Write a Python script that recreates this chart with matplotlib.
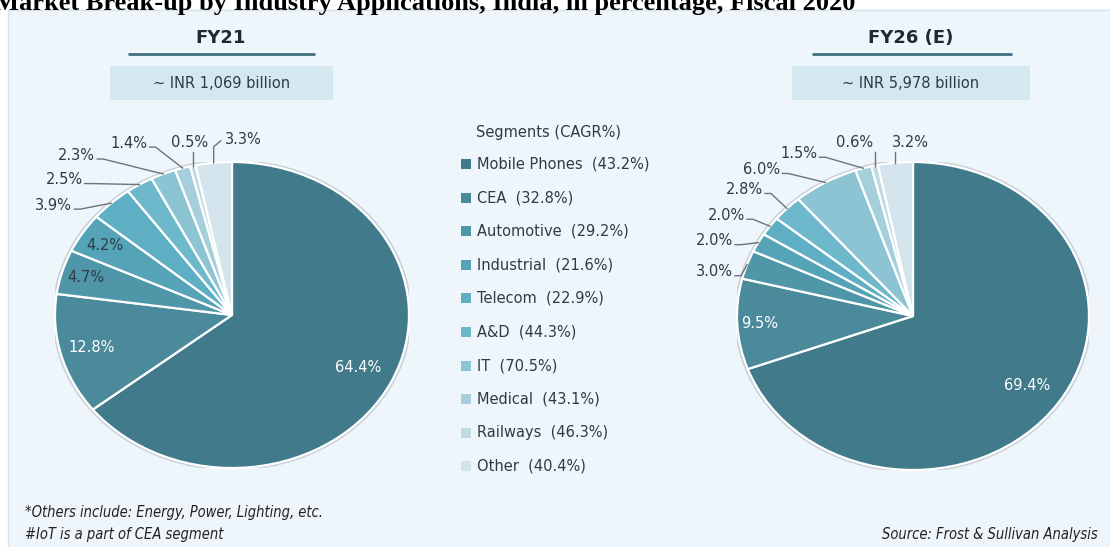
import numpy as np
import matplotlib.pyplot as plt
from matplotlib.patches import Rectangle, Ellipse

# ---- data ----
segments = ["Mobile Phones", "CEA", "Automotive", "Industrial", "Telecom",
            "A&D", "IT", "Medical", "Railways", "Other"]
cagr = [43.2, 32.8, 29.2, 21.6, 22.9, 44.3, 70.5, 43.1, 46.3, 40.4]
share_fy21 = [64.4, 12.8, 4.7, 4.2, 3.9, 2.5, 2.3, 1.4, 0.5, 3.3]
share_fy26 = [69.4, 9.5, 3.0, 2.0, 2.0, 2.8, 6.0, 1.5, 0.6, 3.2]
years = ["FY21", "FY26 (E)"]
market_size = ["~ INR 1,069 billion", "~ INR 5,978 billion"]

colors = ["#417A8A", "#4A8A9B", "#4F96A8", "#55A3B6", "#5EAFC4",
          "#6DB8CB", "#8CC4D4", "#A6CFDC", "#BEDBE4", "#D3E4EC"]

W, H = 1110, 547
DARK = "#2E3B44"
LINE = "#6B7478"

# pie geometry in pixels: centre x, centre y, radius x, radius y
geom = [(232, 315, 177, 153), (913, 316, 176, 154)]
head_x = [221, 911]
head_w = [(128, 315), (812, 1012)]
box_w = [(110, 333), (792, 1030)]

# label layout: ('in', radius fraction, colour) or (mode, dx, dy, ha)
layout_fy21 = [("in", 0.79, "white"), ("in", 0.82, "white"), ("in", 0.86, DARK),
               ("in", 0.85, DARK), ("left", -39, 2), ("left", -57, -5),
               ("left", -68, -19), ("left", -35, -25), ("up", -3, -23, "center"),
               ("up", 11, -23, "left")]
layout_fy26 = [("in", 0.79, "white"), ("in", 0.87, "white"), ("left", -14, 7),
               ("left", -25, -2), ("left", -25, -11), ("left", -24, -19),
               ("left", -45, -13), ("left", -46, -15), ("up", -1, -23, "right"),
               ("up", -3, -20, "left")]

fig = plt.figure(figsize=(W / 100, H / 100), dpi=100)
fig.patch.set_facecolor("white")

bg = fig.add_axes([0, 0, 1, 1], zorder=0)
bg.set_xlim(0, W)
bg.set_ylim(H, 0)
bg.axis("off")
bg.add_patch(Rectangle((8, 10), W, H, facecolor="#EEF6FC", edgecolor="#D5E3EC", lw=1))

top = fig.add_axes([0, 0, 1, 1], zorder=2)
top.set_xlim(0, W)
top.set_ylim(H, 0)
top.axis("off")
top.patch.set_alpha(0)

fig.text(-6 / W, 1 - 10 / H, "Market Break-up by Industry Applications, India, in percentage, Fiscal 2020",
         fontsize=19, fontweight="bold", family="Liberation Serif", va="baseline", ha="left")

for k, (shares, layout) in enumerate([(share_fy21, layout_fy21), (share_fy26, layout_fy26)]):
    cx, cy, rx, ry = geom[k]
    ax = fig.add_axes([(cx - rx) / W, 1 - (cy + ry) / H, 2 * rx / W, 2 * ry / H], zorder=1)
    ax.add_patch(Ellipse((0, 0), 2.02, 2.02, facecolor="none", edgecolor="#C9D2D6", lw=1.5))
    wedges, _ = ax.pie(shares, colors=colors, startangle=90, counterclock=False, radius=1,
                       wedgeprops=dict(edgecolor="white", linewidth=1.6))
    for w in wedges:
        w.set_clip_on(False)
    ax.set_aspect("auto")
    ax.set_xlim(-1, 1)
    ax.set_ylim(-1, 1)

    for w, v, lay in zip(wedges, shares, layout):
        th = np.deg2rad((w.theta1 + w.theta2) / 2)
        txt = f"{v:.1f}%"
        if lay[0] == "in":
            f = lay[1]
            top.text(cx + rx * f * np.cos(th), cy - ry * f * np.sin(th), txt, color=lay[2],
                     fontsize=10.5, ha="center", va="center")
            continue
        axp, ayp = cx + rx * np.cos(th), cy - ry * np.sin(th)
        tx, ty = axp + lay[1], ayp + lay[2]
        if lay[0] == "left":
            top.text(tx, ty, txt, color=DARK, fontsize=10.5, ha="right", va="center")
            top.plot([tx + 2, tx + 8, axp], [ty + 4, ty + 4, ayp], color=LINE, lw=1)
        else:
            top.text(tx, ty, txt, color=DARK, fontsize=10.5, ha=lay[3], va="center")
            if lay[3] == "left" and lay[1] > 6:
                top.plot([axp, axp, tx - 4], [ayp, ty + 7, ty + 1], color=LINE, lw=1)
            else:
                top.plot([axp, axp], [ayp, ty + 9], color=LINE, lw=1)

    # header
    top.text(head_x[k], 38, years[k], fontsize=13, fontweight="bold", color="#1F2A30",
             ha="center", va="center")
    top.plot(head_w[k], [54, 54], color="#3F6F7D", lw=2, solid_capstyle="butt")
    top.add_patch(Rectangle((box_w[k][0], 66), box_w[k][1] - box_w[k][0], 34,
                            facecolor="#D4E9EF", edgecolor="none"))
    top.text((box_w[k][0] + box_w[k][1]) / 2, 83, market_size[k], fontsize=10.5,
             color=DARK, ha="center", va="center")

# legend
top.text(476, 132, "Segments (CAGR%)", fontsize=10.5, color=DARK, ha="left", va="center")
for i, (name, c, g) in enumerate(zip(segments, colors, cagr)):
    y = 164 + i * 33.6
    top.add_patch(Rectangle((461, y - 5), 10, 10, facecolor=c, edgecolor="none"))
    top.text(477, y, f"{name}  ({g}%)", fontsize=10.5, color=DARK, ha="left", va="center")

foot = dict(fontsize=10.5, style="italic", color="#222222", family="DejaVu Sans",
            fontstretch="condensed")
top.text(25, 512, "*Others include: Energy, Power, Lighting, etc.", va="center", **foot)
top.text(25, 534, "#IoT is a part of CEA segment", va="center", **foot)
top.text(1098, 534, "Source: Frost & Sullivan Analysis", va="center", ha="right", **foot)

fig.savefig("out.png", dpi=100)
